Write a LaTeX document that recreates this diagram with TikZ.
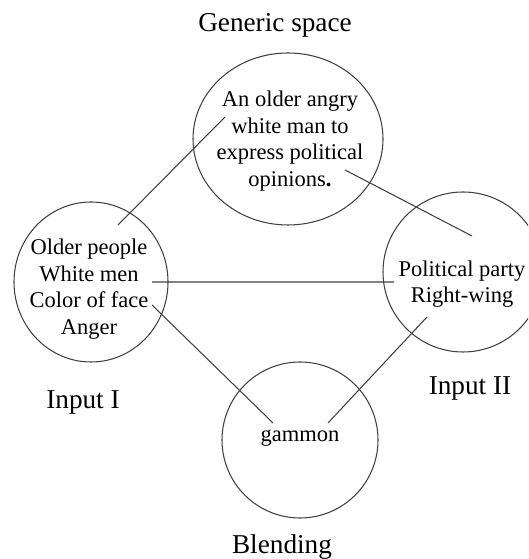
\documentclass[tikz,border=0pt]{standalone}
\usepackage{fontspec}
\setmainfont{Liberation Serif}
\usetikzlibrary{shapes.geometric}

\begin{document}
\begin{tikzpicture}[space/.style = {ellipse,draw = black!75,line width = 0.6pt,inner sep = 0pt},
		spacetext/.style = {align = center,font = \fontsize{12.8}{15.2}\selectfont},
		spacename/.style = {font = \fontsize{15.5}{18}\selectfont},
		link/.style = {draw = black!75,line width = 0.6pt}]
		\useasboundingbox (0,0) rectangle (10.56,11.18);
		\clip (0,0) rectangle (10.56,11.18);
		% the four spaces
		\node (gen) at (5.76,8.40) [space,minimum width = 3.8cm,minimum height = 3.44cm] {};
		\node (inI) at (1.82,5.54) [space,minimum width = 3.08cm,minimum height = 3.2cm] {};
		\node (inII) at (9.26,5.74) [space,minimum width = 3.2cm,minimum height = 3.2cm] {};
		\node (blend) at (6.00,2.38) [space,minimum width = 3.12cm,minimum height = 3.12cm] {};
		\node (gentext) at (5.80,8.36) [spacetext] {An older angry\\white man to\\express political\\opinions\textbf{.}};
		\node (inItext) at (1.78,5.40) [spacetext] {Older people\\White men\\Color of face\\Anger};
		\node (inIItext) at (9.24,5.50) [spacetext] {Political party\\Right-wing};
		\node (blendtext) at (6.00,2.42) [spacetext] {gammon};
		\node (genname) at (5.50,10.68) [spacename] {Generic space};
		\node (inIname) at (1.66,3.14) [spacename] {Input I};
		\node (inIIname) at (9.40,3.42) [spacename] {Input II};
		\node (blendname) at (5.64,0.24) [spacename] {Blending};
		% line ends inside the spaces
		\coordinate (inI-up) at ([shift = {(0.54,1.14)}]inI.center);
		\coordinate (inI-right) at ([shift = {(1.22,0)}]inI.center);
		\coordinate (inI-down) at ([shift = {(1.22,-0.46)}]inI.center);
		\coordinate (gen-left) at ([shift = {(-1.26,0.44)}]gen.center);
		\coordinate (gen-right) at ([shift = {(1.14,-0.62)}]gen.center);
		\coordinate (inII-up) at ([shift = {(0.18,0.72)}]inII.center);
		\coordinate (inII-left) at ([shift = {(-1.38,-0.20)}]inII.center);
		\coordinate (inII-down) at ([shift = {(-0.72,-0.90)}]inII.center);
		\coordinate (blend-left) at ([shift = {(-0.54,0.34)}]blend.center);
		\coordinate (blend-right) at ([shift = {(0.56,0.34)}]blend.center);
		\draw [link] (inI-up) -- (gen-left);
		\draw [link] (gen-right) -- (inII-up);
		\draw [link] (inI-right) -- (inII-left);
		\draw [link] (inI-down) -- (blend-left);
		\draw [link] (inII-down) -- (blend-right);
	\end{tikzpicture}
\end{document}
